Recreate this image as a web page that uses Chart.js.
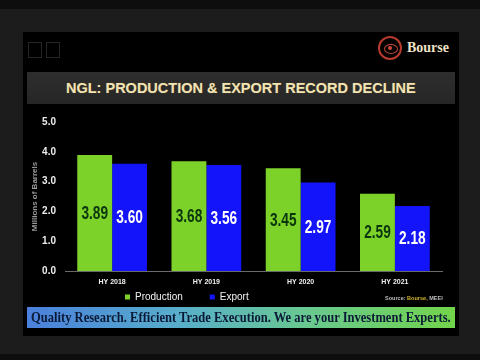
<!DOCTYPE html>
<html>
<head>
<meta charset="utf-8">
<script src="https://cdn.jsdelivr.net/npm/chart.js@4.4.1/dist/chart.umd.min.js"></script>
<style>
  html, body { margin:0; padding:0; }
  body { width:480px; height:360px; background:#1c1c1c; position:relative; overflow:hidden; font-family:"Liberation Sans", Arial, sans-serif; }
  .topband { position:absolute; left:0; top:0; width:480px; height:9px; background:#0e0e0e; }
  .botband { position:absolute; left:0; top:354px; width:480px; height:6px; background:#0e0e0e; }
  .slide { position:absolute; left:23px; top:32px; width:436px; height:304px; background:#000; }
  .sq { position:absolute; top:10px; width:12px; height:14px; border:1.5px solid #262626; }
  .logo { position:absolute; left:355px; top:4px; width:24px; height:24px; border-radius:50%; border:2px solid #b83a2c; box-sizing:border-box; }
  .logo:after { content:""; position:absolute; left:4px; top:6px; width:12px; height:8px; border-radius:50%; border:1.5px solid #c04535; }
  .logo:before { content:""; position:absolute; left:8px; top:8px; width:4px; height:4px; border-radius:50%; background:#d04a3a; }
  .brand { position:absolute; left:384px; top:8px; font:bold 14px "Liberation Serif", serif; color:#efe2c6; }
  .titlebar { position:absolute; left:4px; top:40px; width:428px; height:32px; background:linear-gradient(180deg,#2e2e2e,#262626); }
  .titlebar span { position:absolute; left:39px; top:0; white-space:nowrap; font:bold 15px "Liberation Sans", Arial, sans-serif; line-height:32px; color:#f1e3b4; text-shadow:0 0 1px #6a5a30; transform-origin:0 50%; }
  .source { position:absolute; left:362px; top:263px; white-space:nowrap; font:bold 6px "Liberation Sans", Arial, sans-serif; color:#bdbdbd; transform-origin:0 50%; }
  .source b { color:#d9b62a; }
  .banner { position:absolute; left:4px; top:275px; width:428px; height:21px; background:linear-gradient(90deg,#4a80dc 0%,#58aecb 35%,#68c890 65%,#72d44a 100%); overflow:hidden; }
  .banner span { position:absolute; left:4px; top:0; white-space:nowrap; font:bold 15px "Liberation Serif", serif; line-height:21px; color:#0b1936; transform-origin:0 50%; }
  #wrap { position:absolute; left:0; top:74px; width:436px; height:200px; }
</style>
</head>
<body>
<div class="topband"></div>
<div class="botband"></div>
<div class="slide">
  <div class="sq" style="left:5px"></div>
  <div class="sq" style="left:23px"></div>
  <div class="logo"></div>
  <div class="brand">Bourse</div>
  <div class="titlebar"><span id="title">NGL: PRODUCTION &amp; EXPORT RECORD DECLINE</span></div>
  <div id="wrap"><canvas id="chart"></canvas></div>
  <div class="source" id="source">Source: <b>Bourse,</b> MEEI</div>
  <div class="banner"><span id="motto">Quality Research. Efficient Trade Execution. We are your Investment Experts.</span></div>
</div>

<script>
const categories = ["HY 2018", "HY 2019", "HY 2020", "HY 2021"];
const production = [3.89, 3.68, 3.45, 2.59];
const exportVals = [3.60, 3.56, 2.97, 2.18];
const yTicks = [0, 1, 2, 3, 4, 5];

const GREEN = "#7dd22a";
const BLUE = "#1414fa";
const labelColors = ["#0b350e", "#ffffff"];
const sans = "'Liberation Sans', Arial, sans-serif";

// squeeze the slide texts to the widths in the picture
function fitWidth(id, w){
    const el = document.getElementById(id);
    el.style.transform = "scaleX(" + (w / el.offsetWidth) + ")";
}
fitWidth("motto", 420);
fitWidth("title", 350);
fitWidth("source", 58);

// ---------------- VALUE LABELS ----------------
const valueLabels = {
    id: "valueLabels",
    afterDatasetsDraw(chart){
        const ctx = chart.ctx;
        chart.data.datasets.forEach((ds, i) => {
            chart.getDatasetMeta(i).data.forEach((bar, j) => {
                ctx.save();
                ctx.translate(bar.x, (bar.y + bar.base) / 2 + 1);
                ctx.scale(0.76, 1);
                ctx.font = "bold 18px " + sans;
                ctx.textAlign = "center";
                ctx.textBaseline = "middle";
                ctx.fillStyle = labelColors[i];
                ctx.fillText(ds.data[j].toFixed(2), 0, 0);
                ctx.restore();
            });
        });
    }
};

// ---------------- LEGEND PLACEMENT ----------------
const legendSpot = {
    id: "legendSpot",
    afterLayout(chart){
        const lg = chart.legend;
        const pad = lg.options.labels.padding;
        const w = lg.width;
        lg.left = 102 - pad;
        lg.right = lg.left + w;
        lg.top = 192 - 6 - pad;
        lg.bottom = 200;
        lg.height = lg.bottom - lg.top;
    }
};

new Chart(document.getElementById("chart"), {
    type: "bar",
    data: {
        labels: categories,
        datasets: [
            { label: "Production", data: production, backgroundColor: GREEN },
            { label: "Export", data: exportVals, backgroundColor: BLUE }
        ]
    },
    options: {
        responsive: true,
        maintainAspectRatio: false,
        animation: false,
        categoryPercentage: 0.74,
        barPercentage: 1.0,
        layout: { padding: { top: 16, right: 17, left: 0, bottom: 0 } },
        plugins: {
            legend: {
                position: "bottom",
                align: "start",
                fullSize: false,
                maxHeight: 20,
                labels: {
                    color: "#f2f2f2",
                    boxWidth: 5,
                    boxHeight: 5,
                    padding: 27,
                    font: { family: sans, size: 10 }
                }
            },
            tooltip: { enabled: false }
        },
        scales: {
            x: {
                afterFit(scale){ scale.height = 15; },
                grid: { display: false, drawTicks: false },
                border: { display: true, color: "#6a6a6a", width: 1 },
                ticks: { color: "#f0f0f0", padding: 7, font: { family: sans, size: 7, weight: "bold" } }
            },
            y: {
                min: 0,
                max: 5,
                afterBuildTicks(scale){ scale.ticks = yTicks.map(v => ({ value: v })); },
                afterFit(scale){ scale.width = 42; },
                grid: { display: false, drawTicks: false },
                border: { display: false },
                ticks: {
                    color: "#ececec",
                    padding: 9,
                    font: { family: sans, size: 10, weight: "bold" },
                    callback: v => Number(v).toFixed(1)
                },
                title: {
                    display: true,
                    text: "Millions of Barrels",
                    color: "#9a9a9a",
                    padding: { top: 7, bottom: 0 },
                    font: { family: sans, size: 8, weight: "bold" }
                }
            }
        }
    },
    plugins: [valueLabels, legendSpot]
});
</script>
</body>
</html>
